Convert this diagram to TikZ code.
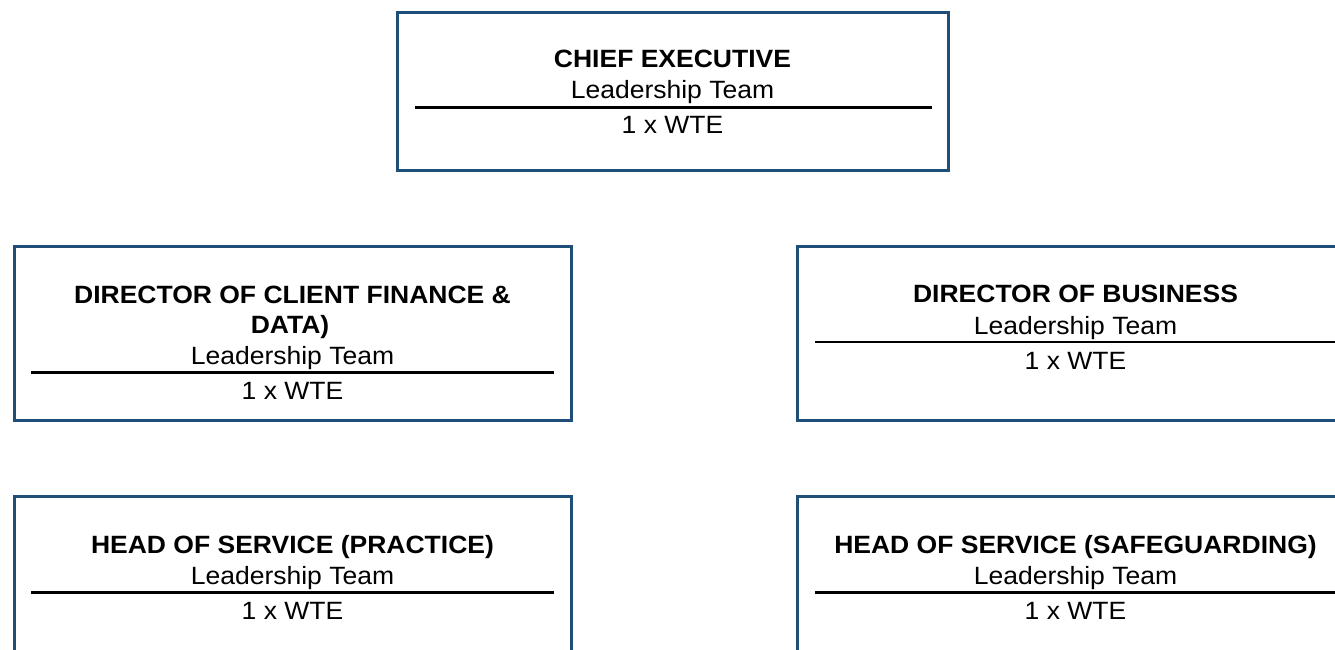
\documentclass[tikz,border=0pt]{standalone}
\usepackage{fontspec}
\setmainfont{Liberation Sans}[FakeStretch=1.06]
\definecolor{boxblue}{RGB}{31,78,121}
\begin{document}
\begin{tikzpicture}[x=1pt,y=-1pt,
  orgbox/.style={draw=boxblue, line width=3pt, rectangle, inner sep=0pt, outer sep=0pt, fill=white},
  ttl/.style={anchor=base, inner sep=0pt, font=\fontsize{25}{30}\selectfont\bfseries},
  sub/.style={anchor=base, inner sep=0pt, font=\fontsize{25}{30}\selectfont},
  rulel/.style={draw=black, line width=2.5pt}]
\useasboundingbox (0,0) rectangle (1335,650);
\clip (0,0) rectangle (1335,650);
\fill[white] (0,0) rectangle (1335,650);

% boxes
\node[orgbox, minimum width=551pt, minimum height=157.5pt] (ceo) at (672.5,91.25) {};
\node[orgbox, minimum width=557pt, minimum height=173.5pt] (fin) at (292.5,333.25) {};
\node[orgbox, minimum width=557pt, minimum height=173.5pt] (bus) at (1075.5,333.25) {};
\node[orgbox, minimum width=557pt, minimum height=173.5pt] (hop) at (292.5,583.25) {};
\node[orgbox, minimum width=557pt, minimum height=173.5pt] (hos) at (1075.5,583.25) {};

% chief executive
\node[ttl] (ceoT) at (672.5,68) {CHIEF EXECUTIVE};
\node[sub] (ceoS) at (672.5,99) {Leadership Team};
\draw[rulel] (415,107.5) -- (932,107.5);
\node[sub] (ceoW) at (672.5,134) {1 x WTE};

% director of client finance
\node[ttl] (finT) at (292.5,303) {DIRECTOR OF CLIENT FINANCE \&};
\node[ttl] (finT2) at (290,333) {DATA)};
\node[sub] (finS) at (292.5,364) {Leadership Team};
\draw[rulel] (31,372.5) -- (554,372.5);
\node[sub] (finW) at (292.5,399) {1 x WTE};

% director of business
\node[ttl] (busT) at (1075.5,302) {DIRECTOR OF BUSINESS};
\node[sub] (busS) at (1075.5,334) {Leadership Team};
\draw[rulel] (815,342) -- (1337,342);
\node[sub] (busW) at (1075.5,369) {1 x WTE};

% head of service (practice)
\node[ttl] (hopT) at (292.5,553) {HEAD OF SERVICE (PRACTICE)};
\node[sub] (hopS) at (292.5,584) {Leadership Team};
\draw[rulel] (31,592.5) -- (554,592.5);
\node[sub] (hopW) at (292.5,619) {1 x WTE};

% head of service (safeguarding)
\node[ttl] (hosT) at (1075.5,553) {HEAD OF SERVICE (SAFEGUARDING)};
\node[sub] (hosS) at (1075.5,584) {Leadership Team};
\draw[rulel] (815,592.5) -- (1337,592.5);
\node[sub] (hosW) at (1075.5,619) {1 x WTE};
\end{tikzpicture}
\end{document}
